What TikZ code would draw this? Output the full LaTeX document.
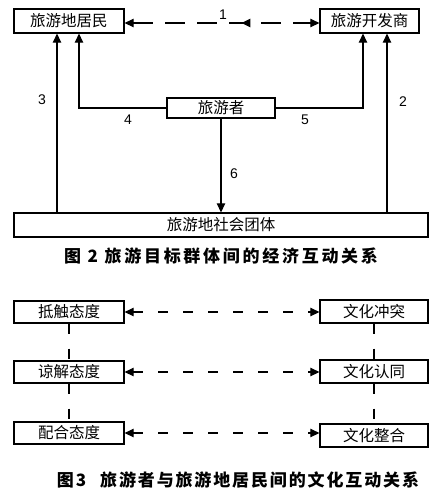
\documentclass[tikz,border=0pt]{standalone}
\usepackage{fontspec}
\setmainfont{Noto Sans CJK SC}
\newfontfamily\numfont{Liberation Sans}
\usetikzlibrary{arrows.meta,decorations.markings}
\begin{document}
\begin{tikzpicture}[x=1pt,y=-1pt,
  >={Triangle[length=9pt,width=8.5pt]},
  box/.style={draw,line width=1.3pt,minimum height=24pt,inner sep=0pt,font=\fontsize{15.5}{15.5}\selectfont},
  tip/.style={->},
  con/.style={line width=1.2pt},
  num/.style={font=\numfont\fontsize{14}{14}\selectfont},
  dsh/.style={con,dash pattern=on 10pt off 15pt},
  captext/.style={font=\bfseries\fontsize{17}{17}\selectfont}]
\useasboundingbox (0,0) rectangle (440,488);
\fill[white] (0,0) rectangle (440,488);
% ---- Figure 2
\node[box,minimum width=110pt] (res) at (69,21) {旅游地居民};
\node[box,minimum width=99pt] (dev) at (369.5,21) {旅游开发商};
\node[box,minimum width=108pt,minimum height=20pt] (tour) at (221,108) {旅游者};
\node[box,minimum width=414pt] (soc) at (221,225) {旅游地社会团体};
\coordinate (x3) at (57,0);
\coordinate (x4) at (79,0);
\coordinate (x5) at (363,0);
\coordinate (x2) at (387,0);
\draw[con,dash pattern=on 20pt off 12pt,<->,
  postaction={decorate},
  decoration={markings,mark=at position 0.6 with {\arrowreversed[line width=1.2pt]{Triangle[length=9pt,width=8.5pt]}}}]
  (res.east |- 0,23) -- (dev.west |- 0,23);
\draw[con,tip] (soc.north -| x3) -- (res.south -| x3);
\draw[con,tip] (tour.west) -| (res.south -| x4);
\draw[con,tip] (tour.east) -| (dev.south -| x5);
\draw[con,tip] (soc.north -| x2) -- (dev.south -| x2);
\draw[con,tip] (tour.south) -- (soc.north);
\node[num] (n1) at (223,15) {1};
\node[num] (n3) at (42,100) {3};
\node[num] (n4) at (128,120) {4};
\node[num] (n5) at (305,120) {5};
\node[num] (n2) at (403,102) {2};
\node[num] (n6) at (234,174) {6};
\node[captext] (cap2) at (221,256) {\addfontfeature{LetterSpace=16}图 2 旅游目标群体间的经济互动关系};
% ---- Figure 3
\node[box,minimum width=110pt,minimum height=22pt] (a1) at (69,312) {抵触态度};
\node[box,minimum width=110pt,minimum height=22pt] (a2) at (69,372) {谅解态度};
\node[box,minimum width=110pt,minimum height=22pt] (a3) at (69,433) {配合态度};
\node[box,minimum width=108pt,minimum height=23pt] (b1) at (374,311.5) {文化冲突};
\node[box,minimum width=108pt,minimum height=23pt] (b2) at (374,371.5) {文化认同};
\node[box,minimum width=108pt,minimum height=23pt] (b3) at (374,435.5) {文化整合};
\foreach \i in {1,2,3}{
  \draw[dsh,<->] (a\i.east) -- (a\i.east -| b\i.west);
}
\draw[dsh] (a1.south) -- (a2.north);
\draw[dsh] (a2.south) -- (a3.north);
\draw[dsh] (b1.south) -- (b2.north);
\draw[dsh] (b2.south) -- (b3.north);
\node[captext] (cap3) at (238,480) {\addfontfeature{LetterSpace=11}图3\hspace{14pt}旅游者与旅游地居民间的文化互动关系};
\end{tikzpicture}
\end{document}
